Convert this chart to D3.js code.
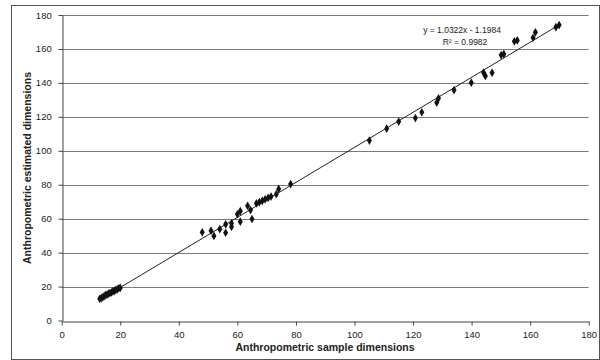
<!DOCTYPE html>
<html><head><meta charset="utf-8">
<script src="https://cdn.jsdelivr.net/npm/d3@7"></script>
<style>body{margin:0;background:#fff}svg{display:block}</style>
</head><body><svg id="c" width="600" height="360"></svg>
<script>
const xTicks = [0,20,40,60,80,100,120,140,160,180];
const yTicks = [0,20,40,60,80,100,120,140,160,180];
const sampleX = [13,13.5,14,14.5,15,15.5,16,16.5,17,17.5,18,18.5,19,19.5,20,
  48,51,52,54,56,56,58,58,60,61,61,63.5,64.5,65,66.5,67.5,68.5,69.5,70.5,71.5,73.3,74.1,78.2,
  105.1,111,115.1,120.8,123,128.1,128.7,134,139.9,144.1,144.7,147,150.1,151,154.6,155.6,161,161.8,168.8,169.9];
const estimatedY = [12.8,13.2,13.6,14.4,15,15.3,15.8,16.2,16.6,17.2,17.5,18,18.4,19,19.2,
  52,52.9,49.8,53.9,56.7,51.7,57.3,55.2,62.6,64.5,58.2,67.6,65.1,59.8,69,69.8,70.5,71.4,72.2,73,74.4,77.5,80.4,
  106,113,117.2,119.3,122.7,128.4,130.9,135.8,140.1,146,144.1,146,156.4,157,164.5,165,166.6,169.8,172.8,174.1];
const slope = 1.0322, intercept = -1.1984, r2 = 0.9982;

const svg = d3.select("#c");
const m = {l:61.7, r:588.7, t:15, b:320.5};
const x = d3.scaleLinear().domain([0,180]).range([m.l, m.r]);
const y = d3.scaleLinear().domain([0,180]).range([m.b, m.t]);
const font = "'Liberation Sans', Arial, sans-serif";

svg.append("rect").attr("x",11.5).attr("y",5.5).attr("width",588).attr("height",354)
  .attr("fill","none").attr("stroke","#555").attr("stroke-width",1);

// gridlines
svg.append("g").selectAll("line").data(yTicks.filter(d=>d>0)).join("line")
  .attr("x1",m.l).attr("x2",m.r).attr("y1",d=>Math.round(y(d))+0.5).attr("y2",d=>Math.round(y(d))+0.5)
  .attr("stroke","#7a7a7a").attr("stroke-width",1.2);

const xa = svg.append("g").attr("transform",`translate(0,${Math.round(m.b)+0.5})`)
  .call(d3.axisBottom(x).tickValues(xTicks).tickSize(4).tickSizeOuter(0));
const ya = svg.append("g").attr("transform",`translate(${Math.round(m.l)+0.5},0)`)
  .call(d3.axisLeft(y).tickValues(yTicks).tickSize(4).tickSizeOuter(0));
[xa,ya].forEach(a=>{
  a.selectAll("path,line").attr("stroke","#444").attr("stroke-width",1);
  a.selectAll("text").attr("font-family",font).attr("font-size",9.5).attr("fill","#222");
});
xa.selectAll("text").attr("dy","1.05em");
ya.selectAll("text").attr("dx","-0.4em");

// trendline
const x0 = d3.min(sampleX), x1 = d3.max(sampleX);
svg.append("line").attr("x1",x(x0)).attr("y1",y(slope*x0+intercept))
  .attr("x2",x(x1+0.6)).attr("y2",y(slope*(x1+0.6)+intercept))
  .attr("stroke","#222").attr("stroke-width",1);

// points
const sym = d3.symbol().type(d3.symbolDiamond).size(22);
svg.append("g").selectAll("path").data(sampleX.map((d,i)=>[d,estimatedY[i]])).join("path")
  .attr("d",sym).attr("transform",d=>`translate(${x(d[0])},${y(d[1])})`)
  .attr("fill","#111");

svg.append("text").attr("x",462).attr("y",33).attr("text-anchor","middle")
  .attr("font-family",font).attr("font-size",8.5).attr("fill","#222")
  .text(`y = ${slope}x - ${Math.abs(intercept)}`);
svg.append("text").attr("x",465).attr("y",45).attr("text-anchor","middle")
  .attr("font-family",font).attr("font-size",8.5).attr("fill","#222")
  .text(`R² = ${r2}`);

svg.append("text").attr("x",325).attr("y",351).attr("text-anchor","middle")
  .attr("font-family",font).attr("font-size",10.5).attr("font-weight","bold").attr("fill","#222")
  .text("Anthropometric sample dimensions");
svg.append("text").attr("transform","translate(31,168) rotate(-90)").attr("text-anchor","middle")
  .attr("font-family",font).attr("font-size",10.5).attr("font-weight","bold").attr("fill","#222")
  .text("Anthropometric estimated dimensions");
</script></body></html>
